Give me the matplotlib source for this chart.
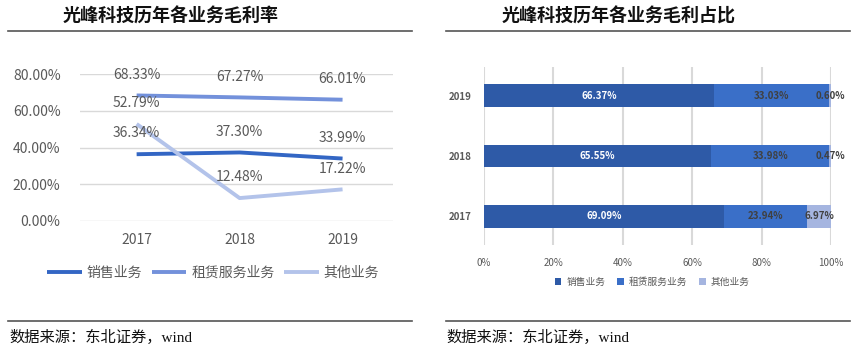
import matplotlib
matplotlib.use("Agg")
import matplotlib.pyplot as plt
from matplotlib.lines import Line2D
import numpy as np

plt.rcParams["font.family"] = ["Noto Sans CJK SC", "DejaVu Sans"]

# Left chart: gross margin by business (%)
years = ["2017", "2018", "2019"]
series_names = ["销售业务", "租赁服务业务", "其他业务"]
sales_margin = [36.34, 37.30, 33.99]
rental_margin = [68.33, 67.27, 66.01]
other_margin = [52.79, 12.48, 17.22]
margin_ticks = [0, 20, 40, 60, 80]

# Right chart: share of gross profit (%)
share_years = ["2017", "2018", "2019"]
sales_share = [69.09, 65.55, 66.37]
rental_share = [23.94, 33.98, 33.03]
other_share = [6.97, 0.47, 0.60]
share_ticks = [0, 20, 40, 60, 80, 100]

W, H = 864, 352
fig = plt.figure(figsize=(W / 100, H / 100), dpi=100)


def box(x0, y0, x1, y1):
    # pixel box (top-left origin) -> figure fraction
    return [x0 / W, 1 - y1 / H, (x1 - x0) / W, (y1 - y0) / H]


def hline(x0, x1, y):
    fig.add_artist(Line2D([x0 / W, x1 / W], [1 - y / H, 1 - y / H],
                          color="#555555", lw=1.2, transform=fig.transFigure))


gray = "#595959"
source_font = ["Liberation Serif", "Noto Sans CJK SC"]

# ---- titles, rules and source notes
fig.text(63 / W, 1 - 16 / H, "光峰科技历年各业务毛利率", fontsize=13,
         fontweight="bold", va="center", ha="left", color="#111111")
fig.text(502 / W, 1 - 16 / H, "光峰科技历年各业务毛利占比", fontsize=13,
         fontweight="bold", va="center", ha="left", color="#111111")
hline(8, 412, 31)
hline(446, 850, 31)
hline(8, 412, 321)
hline(446, 850, 321)
fig.text(9 / W, 1 - 337 / H, "数据来源：东北证券，wind", fontsize=11,
         va="center", ha="left", color="#111111", family=source_font)
fig.text(446 / W, 1 - 337 / H, "数据来源：东北证券，wind", fontsize=11,
         va="center", ha="left", color="#111111", family=source_font)

# ---- left line chart
ax = fig.add_axes(box(80, 74, 393, 221))
x = np.arange(len(years))
line_colors = ["#3366c4", "#7391db", "#b3c3ea"]
for vals, c, name in zip([sales_margin, rental_margin, other_margin],
                         line_colors, series_names):
    ax.plot(x, vals, color=c, lw=2.8, label=name, solid_capstyle="butt")
    for xi, v in zip(x, vals):
        ax.annotate(f"{v:.2f}%", (xi, v), xytext=(0, 15),
                    textcoords="offset points", ha="center", va="center",
                    fontsize=10, color=gray, annotation_clip=False)
ax.set_xlim(-0.55, 2.49)
ax.set_ylim(0, 80)
ax.set_yticks(margin_ticks)
ax.set_yticklabels([f"{t:.2f}%" for t in margin_ticks])
ax.set_xticks(x)
ax.set_xticklabels(years)
ax.grid(axis="y", color="#d9d9d9", lw=1)
ax.set_axisbelow(True)
for s in ax.spines.values():
    s.set_visible(False)
ax.tick_params(length=0, labelsize=10, colors=gray)
ax.tick_params(axis="y", pad=14)
ax.tick_params(axis="x", pad=9)
fig.legend(handles=ax.get_lines(), labels=series_names, loc="center",
           bbox_to_anchor=(213 / W, 1 - 273 / H), ncol=3, frameon=False,
           fontsize=10, handlelength=2.5, handletextpad=0.35,
           columnspacing=0.7, labelcolor=gray)

# ---- right stacked bar chart
ax2 = fig.add_axes(box(484, 67, 831, 245))
y = np.arange(len(share_years))
bar_colors = ["#2e5aa7", "#3a6fc8", "#a5b5e0"]
label_colors = ["white", "#404040", "#404040"]
left = np.zeros(len(y))
for vals, c, lc, name in zip([sales_share, rental_share, other_share],
                             bar_colors, label_colors, series_names):
    vals = np.array(vals)
    ax2.barh(y, vals, left=left, height=0.38, color=c, label=name)
    for yi, l, v in zip(y, left, vals):
        ax2.text(l + v / 2, yi, f"{v:.2f}%", ha="center", va="center",
                 fontsize=7, fontweight="bold", color=lc)
    left += vals
ax2.set_xlim(0, 100)
ax2.set_ylim(-0.48, 2.48)
ax2.set_xticks(share_ticks)
ax2.set_xticklabels([f"{t}%" for t in share_ticks])
ax2.set_yticks(y)
ax2.set_yticklabels(share_years)
ax2.grid(axis="x", color="#d9d9d9", lw=1.5)
ax2.set_axisbelow(True)
for s in ax2.spines.values():
    s.set_visible(False)
ax2.tick_params(length=0, labelsize=7, colors=gray)
ax2.tick_params(axis="x", pad=9)
ax2.tick_params(axis="y", pad=9)
for t in ax2.get_yticklabels():
    t.set_fontweight("bold")
fig.legend(*ax2.get_legend_handles_labels(), loc="center",
           bbox_to_anchor=(652 / W, 1 - 282 / H), ncol=3, frameon=False,
           fontsize=7, handlelength=0.7, handleheight=0.7,
           handletextpad=0.5, columnspacing=1.2, labelcolor=gray)

fig.savefig("out.png", dpi=100)
